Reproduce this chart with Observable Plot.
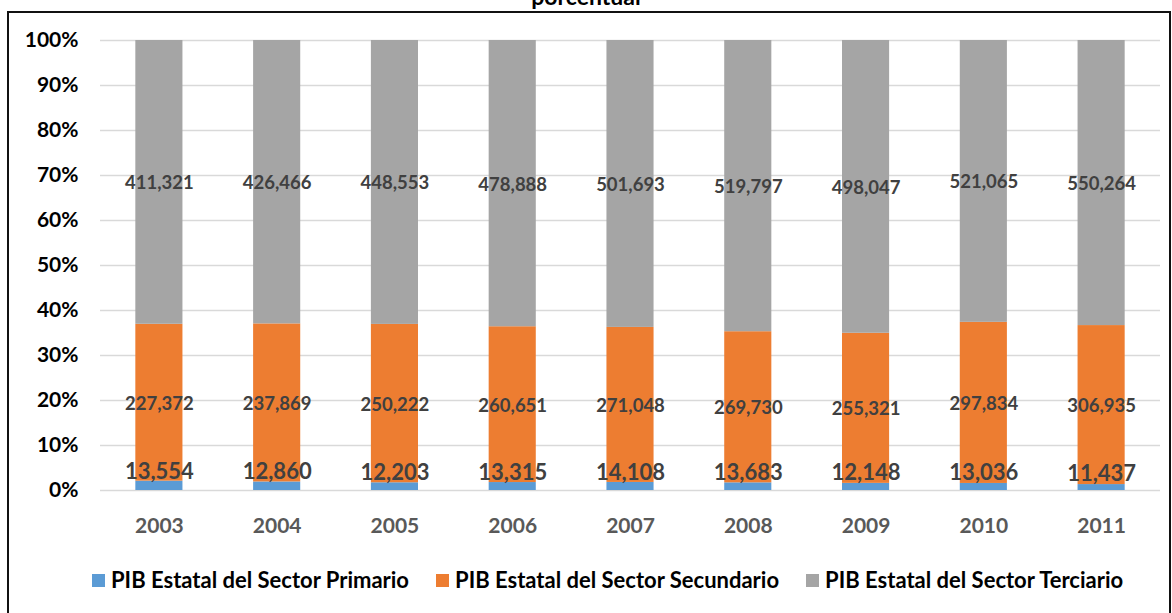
<!DOCTYPE html>
<html><head><meta charset="utf-8">
<script src="https://cdn.jsdelivr.net/npm/d3@7"></script>
<script src="https://cdn.jsdelivr.net/npm/@observablehq/plot@0.6"></script>
<style>
html,body{margin:0;padding:0;background:#fff;overflow:hidden;width:1172px;height:613px;}
#wrap{position:relative;width:1172px;height:613px;font-family:Lato,sans-serif;}
#frame{position:absolute;left:7px;top:11px;width:1164px;height:640px;border:2px solid #111;box-sizing:border-box;}
#title{position:absolute;left:0;width:1172px;top:-15px;text-align:center;font-weight:bold;font-size:23px;line-height:23px;color:#000;}
#chart{position:absolute;left:0;top:0;}
#legend{position:absolute;top:567px;left:92px;display:flex;gap:27px;font-weight:bold;font-size:22px;line-height:26px;color:#000;align-items:center;}
#legend .it{display:flex;align-items:center;gap:6px;}
#legend .sw{width:13px;height:13px;display:inline-block;}
g[aria-label="y-axis tick label"]{font-weight:bold;font-size:21px;fill:#000;}
g[aria-label="x-axis tick label"]{font-weight:bold;font-size:21px;fill:#595959;}
</style></head>
<body><div id="wrap"><div id="frame"></div><div id="title">porcentual</div><div id="chart"></div><div id="legend"></div></div>
<script>
const years = ["2003","2004","2005","2006","2007","2008","2009","2010","2011"];
const primario = [13554,12860,12203,13315,14108,13683,12148,13036,11437];
const secundario = [227372,237869,250222,260651,271048,269730,255321,297834,306935];
const terciario = [411321,426466,448553,478888,501693,519797,498047,521065,550264];
const seriesNames = ["PIB Estatal del Sector Primario","PIB Estatal del Sector Secundario","PIB Estatal del Sector Terciario"];
const colors = ["#5B9BD5","#ED7D31","#A5A5A5"];
const yTicks = [0,0.1,0.2,0.3,0.4,0.5,0.6,0.7,0.8,0.9,1];

const arrays = [primario, secundario, terciario];
const data = years.flatMap((yr,i)=>arrays.map((arr,k)=>({year:yr, series:seriesNames[k], value:arr[i]})));
const fmt = d3.format(",");

const chart = Plot.plot({
  width:1172, height:550, marginTop:40, marginBottom:60, marginLeft:100, marginRight:12,
  style:{fontFamily:"Lato,sans-serif", background:"transparent"},
  x:{domain:years, paddingInner:0.6, paddingOuter:0.3, round:false, label:null},
  y:{domain:[0,1], label:null},
  color:{domain:seriesNames, range:colors},
  marks:[
    Plot.ruleY(yTicks,{stroke:"#D9D9D9", strokeWidth:1.5}),
    Plot.barY(data, Plot.stackY({x:"year", y:"value", fill:"series", offset:"normalize"})),
    Plot.text(data, Plot.stackY({x:"year", y:"value", z:"series", offset:"normalize",
      text:d=>d.series===seriesNames[0]?null:fmt(d.value), fill:"#404040", fontWeight:"bold", fontSize:18.5, dy:1})),
    Plot.text(data, Plot.stackY({x:"year", y:"value", z:"series", offset:"normalize",
      text:d=>d.series===seriesNames[0]?fmt(d.value):null, fill:"#404040", fontWeight:"bold", fontSize:22, dy:-14})),
    Plot.axisY({ticks:yTicks, tickFormat:d3.format(".0%"), tickSize:0, tickPadding:22, label:null}),
    Plot.axisX({tickSize:0, tickPadding:28, label:null})
  ]
});
document.getElementById("chart").appendChild(chart);

const leg = document.getElementById("legend");
seriesNames.forEach((s,i)=>{
  const it = document.createElement("div"); it.className="it";
  const sw = document.createElement("span"); sw.className="sw"; sw.style.background=colors[i];
  const tx = document.createElement("span"); tx.textContent=s;
  it.appendChild(sw); it.appendChild(tx); leg.appendChild(it);
});
</script></body></html>
